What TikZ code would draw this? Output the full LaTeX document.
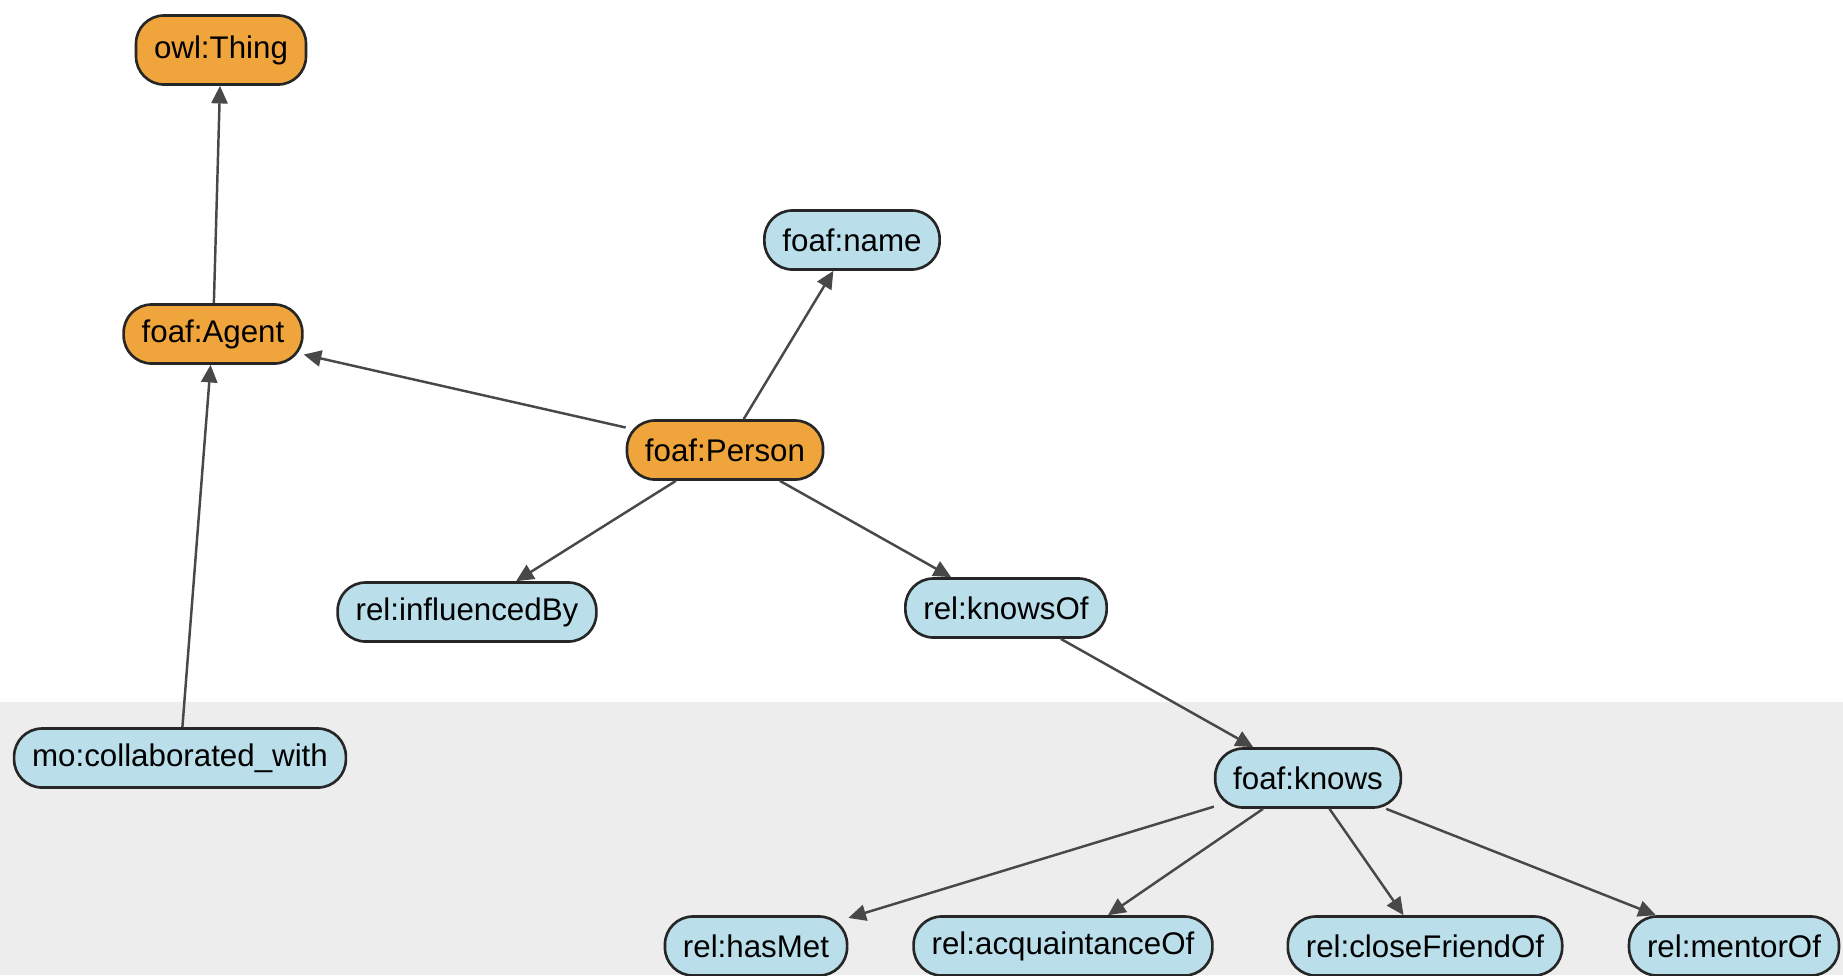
\documentclass[tikz,border=0pt]{standalone}
\usepackage{fontspec}
\setmainfont{Liberation Sans}
\usepackage{xcolor}
\usepackage{tikz}
\usetikzlibrary{arrows.meta}

\definecolor{clsorange}{RGB}{240,165,60}
\definecolor{proplblue}{RGB}{186,223,235}
\definecolor{bandgray}{RGB}{237,237,237}
\definecolor{edgegray}{RGB}{72,72,72}

\begin{document}
\begin{tikzpicture}[x=0.01cm, y=-0.01cm,
  cls/.style={draw=black!85, line width=0.75pt, rounded corners=0.28cm, fill=clsorange,
              font=\fontsize{8.9}{10}\selectfont, inner xsep=0.18cm,
              minimum height=0.59cm},
  prop/.style={cls, fill=proplblue},
  arr/.style={-{Triangle[length=5pt,width=4.6pt]}, draw=edgegray, line width=0.7pt}
]
  \useasboundingbox (0,0) rectangle (1843,975);
  \fill[bandgray] (0,702) rectangle (1843,975);

  \node[cls, minimum height=0.69cm] (thing) at (221,50) {owl:Thing};
  \node[cls] (agent) at (213,334) {foaf:Agent};
  \node[cls] (person) at (725,450) {foaf:Person};
  \node[prop] (name) at (852,240) {foaf:name};
  \node[prop] (influenced) at (467,612) {rel:influencedBy};
  \node[prop] (knowsof) at (1006,608) {rel:knowsOf};
  \node[prop] (collab) at (180,758) {mo:collaborated\_with};
  \node[prop] (knows) at (1308,778) {foaf:knows};
  \node[prop] (hasmet) at (756,946) {rel:hasMet};
  \node[prop] (acq) at (1063,946) {rel:acquaintanceOf};
  \node[prop] (close) at (1425,946) {rel:closeFriendOf};
  \node[prop] (mentor) at (1734,946) {rel:mentorOf};

  \draw[arr] (agent) -- (thing);
  \draw[arr] (person) -- (agent);
  \draw[arr] (person) -- (name);
  \draw[arr] (person) -- (influenced);
  \draw[arr] (person) -- (knowsof);
  \draw[arr] (collab) -- (agent);
  \draw[arr] (knowsof) -- (knows);
  \foreach \t in {hasmet, acq, close, mentor}
    \draw[arr] (knows) -- (\t);
\end{tikzpicture}
\end{document}
